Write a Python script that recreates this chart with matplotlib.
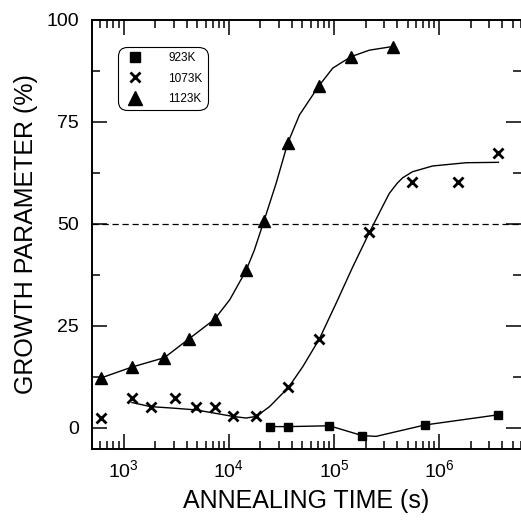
import numpy as np
import matplotlib
matplotlib.use('Agg')
from matplotlib import pyplot as plt
from matplotlib.ticker import LogLocator, LogFormatterSciNotation, NullFormatter, MultipleLocator

plt.rcParams['font.family'] = ['Liberation Sans', 'DejaVu Sans']
plt.rcParams['mathtext.fontset'] = 'custom'
plt.rcParams['mathtext.rm'] = 'Liberation Sans'

# measured points (annealing time in s, growth parameter in %)
t_923 = [24400, 36900, 90400, 185000, 733000, 3660000]
g_923 = [0.3, 0.3, 0.5, -1.9, 0.7, 3.2]

t_1073 = [605, 1200, 1800, 3050, 4830, 7310, 10900, 18000, 36900, 72600,
          217000, 547000, 1520000, 3660000]
g_1073 = [2.4, 7.4, 5.1, 7.4, 5.1, 5.1, 2.8, 2.8, 9.9, 21.8,
          47.9, 60.2, 60.2, 67.5]

t_1123 = [605, 1200, 2440, 4170, 7310, 14600, 21500, 36300, 71600, 145000, 361000]
g_1123 = [12.2, 14.9, 17.2, 21.8, 26.6, 38.6, 50.6, 69.8, 83.8, 91.0, 93.5]

# guide-to-the-eye curves
ct_923 = [24400, 36900, 90400, 185000, 251000, 733000, 3660000]
cg_923 = [0.3, 0.3, 0.5, -1.9, -2.1, 0.7, 3.2]

ct_1073 = [1200, 1800, 3050, 4830, 7310, 10900, 14600, 18200, 24400, 36900,
           50500, 72600, 105000, 151000, 217000, 290000, 336000, 400000, 449000,
           559000, 865000, 1800000, 3660000]
cg_1073 = [6.2, 5.2, 4.8, 4.4, 3.6, 2.8, 2.4, 2.8, 5.2, 9.9,
           15.0, 21.8, 30.6, 39.5, 47.9, 54.3, 57.5, 60.0, 61.3,
           62.8, 64.2, 65.0, 65.1]

ct_1123 = [605, 1200, 2440, 4170, 7310, 10200, 14600, 17500, 21500, 28200,
           36300, 46900, 71600, 97300, 145000, 217000, 361000]
cg_1123 = [12.2, 14.9, 17.2, 21.8, 26.6, 31.4, 38.6, 43.6, 50.6, 60.0,
           69.8, 76.7, 83.8, 88.2, 91.0, 92.6, 93.5]

fig = plt.figure(figsize=(5.21, 5.22), dpi=100)
ax = fig.add_axes([0.1766, 0.1398, 0.8234, 0.8219])

ax.axhline(50, color='black', lw=0.9, ls=(0, (5, 3)))

ax.plot(ct_923, cg_923, color='black', lw=1.0)
ax.plot(ct_1073, cg_1073, color='black', lw=1.0)
ax.plot(ct_1123, cg_1123, color='black', lw=1.0)

ax.plot(t_923, g_923, ls='none', marker='s', ms=6, color='black', label='923K')
ax.plot(t_1073, g_1073, ls='none', marker='x', ms=6.5, mew=2, color='black', label='1073K')
ax.plot(t_1123, g_1123, ls='none', marker='^', ms=8, color='black', label='1123K')

ax.set_xscale('log')
ax.set_xlim(500, 6e6)
ax.set_ylim(-5.2, 100)

ax.xaxis.set_major_locator(LogLocator(base=10, numticks=10))
ax.xaxis.set_minor_locator(LogLocator(base=10, subs=np.arange(2, 10), numticks=20))
ax.xaxis.set_major_formatter(LogFormatterSciNotation())
ax.xaxis.set_minor_formatter(NullFormatter())
ax.yaxis.set_major_locator(MultipleLocator(25))
ax.yaxis.set_minor_locator(MultipleLocator(12.5))

ax.tick_params(which='both', direction='in', top=True, right=True,
               width=1.1, colors='black')
ax.tick_params(which='major', length=10.5, labelsize=14, pad=7)
ax.tick_params(which='minor', length=6)
ax.tick_params(axis='y', which='major', pad=9.5)

for side in ['left', 'top', 'bottom']:
    ax.spines[side].set_linewidth(1.4)
ax.spines['right'].set_visible(False)

ax.set_xlabel('ANNEALING TIME (s)', fontsize=18, labelpad=6)
ax.set_ylabel('GROWTH PARAMETER (%)', fontsize=18, labelpad=6)

leg = ax.legend(loc='upper left', bbox_to_anchor=(0.0606, 0.937), borderaxespad=0,
                fontsize=8.5, handlelength=2.0, handletextpad=1.8,
                borderpad=0.45, labelspacing=0.7, frameon=True, fancybox=True,
                edgecolor='black', framealpha=1, markerscale=1.2)
leg.get_frame().set_linewidth(0.8)
leg.get_frame().set_boxstyle('round', pad=0, rounding_size=0.8)

fig.savefig('out.png', dpi=100)
